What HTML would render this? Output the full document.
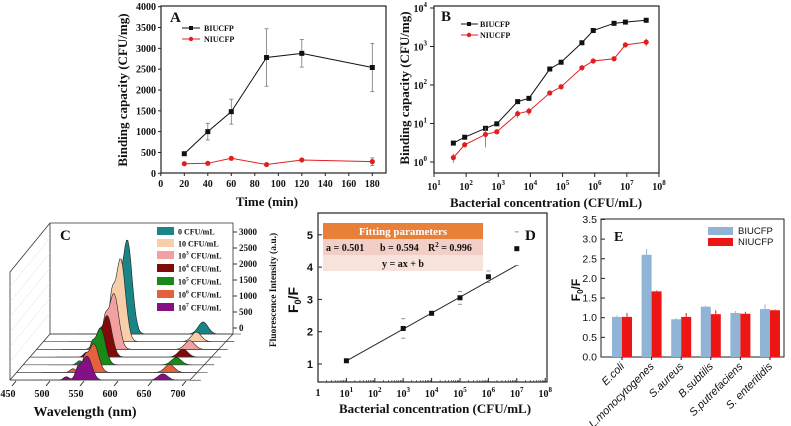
<!DOCTYPE html>
<html><head><meta charset="utf-8">
<style>
html,body{margin:0;padding:0;background:#fff;}
svg{display:block;}
.s{font-family:"Liberation Serif",serif;font-weight:bold;fill:#111;}
.ss{font-family:"Liberation Sans",sans-serif;fill:#111;}
</style></head><body>
<svg id="fig" width="791" height="426" viewBox="0 0 791 426" xmlns="http://www.w3.org/2000/svg">
<g id="pa"></g>
<g id="pb"></g>
<g id="pc"></g>
<g id="pd"></g>
<g id="pe"></g>
</svg>
<script>
// ---------- DATA ----------
const timeA = [20, 40, 60, 90, 120, 180];
const biA = [470, 1000, 1480, 2780, 2880, 2540];
const biErrA = [0, 200, 300, 690, 330, 580];
const niA = [230, 240, 360, 210, 320, 280];
const niErrA = [0, 0, 0, 0, 0, 90];
const ticksAx = [0, 20, 40, 60, 80, 100, 120, 140, 160, 180];
const ticksAy = [0, 500, 1000, 1500, 2000, 2500, 3000, 3500, 4000];

const concB = [4e1, 9e1, 4e2, 9e2, 4e3, 9e3, 4e4, 9e4, 4e5, 9e5, 4e6, 9e6, 4e7];
const biB = [3.1, 4.4, 7.5, 9.8, 37, 45, 260, 390, 1250, 2600, 4000, 4300, 4800];
const niB = [1.3, 2.8, 5.2, 6.1, 18, 21, 62, 90, 280, 420, 480, 1100, 1300];
const niErrB = [0.35, 0.3, 2.8, 0.6, 4, 5, 8, 10, 30, 40, 40, 150, 300];
const expBx = [1, 2, 3, 4, 5, 6, 7, 8];
const expBy = [0, 1, 2, 3, 4];

const seriesC = ["0 CFU/mL", "10 CFU/mL", "10|3| CFU/mL", "10|4| CFU/mL", "10|5| CFU/mL", "10|6| CFU/mL", "10|7| CFU/mL"];
const colorsC = ["#1a8585", "#f6cfaa", "#f2a0a0", "#800a0a", "#188a18", "#e6603e", "#850f85"];
const peakC = [2950, 2600, 1750, 1300, 1150, 900, 750];
const sidePeakC = [420, 200, 160, 150, 130, 120, 110];
const bluePeakC = [150, 120, 110, 100, 90, 100, 80];
const ticksCz = [0, 500, 1000, 1500, 2000, 2500, 3000];
const ticksCx = [450, 500, 550, 600, 650, 700];

const logConcD = [1, 3, 4, 5, 6, 7];
const ratioD = [1.1, 2.1, 2.57, 3.05, 3.7, 4.57];
const errD = [0.05, 0.3, 0.05, 0.2, 0.18, 0.52];
const fitA = 0.494, fitB = 0.6;
const ticksDy = [1, 2, 3, 4, 5];
const expDx = [0, 1, 2, 3, 4, 5, 6, 7, 8];

const catE = ["E.coli", "L.monocytogenes", "S.aureus", "B.subtilis", "S.putrefaciens", "S. enteritidis"];
const biE = [1.02, 2.6, 0.96, 1.28, 1.12, 1.22];
const biErrE = [0.04, 0.15, 0.03, 0.03, 0.05, 0.12];
const niE = [1.02, 1.67, 1.02, 1.09, 1.1, 1.19];
const niErrE = [0.1, 0.02, 0.1, 0.1, 0.05, 0.02];
const ticksEy = [0, 0.5, 1, 1.5, 2, 2.5, 3, 3.5];

// ---------- helpers ----------
const NS = "http://www.w3.org/2000/svg";
function mk(parent, tag, attrs, text) {
  const e = document.createElementNS(NS, tag);
  for (const k in attrs) e.setAttribute(k, attrs[k]);
  if (text !== undefined) e.textContent = text;
  parent.appendChild(e);
  return e;
}
function pow10(parent, x, y, exp, size, anchor) {
  const t = mk(parent, "text", {x: x, y: y, "text-anchor": anchor || "middle", class: "s", "font-size": size});
  
  
  mk(t, "tspan", {}, "10");
  mk(t, "tspan", {dy: -5, "font-size": size * 0.7}, String(exp));
  return t;
}
const L10 = Math.log10;

// ---------- Panel A ----------
(function(){
  const g = document.getElementById("pa");
  const xA = v => 160.8 + v * 1.175;
  const yA = v => 173.3 - v * 166.6 / 4000;
  const f = mk(g, "rect", {x: 161, y: 6, width: 225, height: 167, fill: "none", stroke: "#222", "stroke-width": 1.2});
  
  
  ticksAx.forEach(v => {
    mk(g, "line", {x1: xA(v), x2: xA(v), y1: 173, y2: 176, stroke: "#222"});
    const t = mk(g, "text", {x: xA(v), y: 187, "text-anchor": "middle", class: "s", "font-size": 10}, v);
    
    
  });
  ticksAy.forEach(v => {
    mk(g, "line", {x1: 158, x2: 161, y1: yA(v), y2: yA(v), stroke: "#222"});
    const t = mk(g, "text", {x: 156, y: yA(v) + 3.5, "text-anchor": "end", class: "s", "font-size": 10}, v);
    
    
  });
  const xt = mk(g, "text", {x: 267, y: 206, "text-anchor": "middle", class: "s", "font-size": 13}, "Time (min)");
  
  
  const yt = mk(g, "text", {x: 0, y: 0, transform: "translate(127,90) rotate(-90)", "text-anchor": "middle", class: "s", "font-size": 13}, "Binding capacity (CFU/mg)");
  
  
  const lb = mk(g, "text", {x: 170, y: 22, class: "s", "font-size": 15}, "A");
  
  
  function series(vals, errs, color, sq, name) {
    const pl = mk(g, "polyline", {points: timeA.map((t, i) => xA(t) + "," + yA(vals[i])).join(" "), fill: "none", stroke: color, "stroke-width": 1});
    
    
    timeA.forEach((t, i) => {
      if (errs[i] > 0) {
        mk(g, "line", {x1: xA(t), x2: xA(t), y1: yA(vals[i] - errs[i]), y2: yA(vals[i] + errs[i]), stroke: "#777", "stroke-width": 0.8});
        mk(g, "line", {x1: xA(t) - 2, x2: xA(t) + 2, y1: yA(vals[i] + errs[i]), y2: yA(vals[i] + errs[i]), stroke: "#777", "stroke-width": 0.8});
        mk(g, "line", {x1: xA(t) - 2, x2: xA(t) + 2, y1: yA(vals[i] - errs[i]), y2: yA(vals[i] - errs[i]), stroke: "#777", "stroke-width": 0.8});
      }
      const m = sq ? mk(g, "rect", {x: xA(t) - 2.5, y: yA(vals[i]) - 2.5, width: 5, height: 5, fill: color})
                   : mk(g, "circle", {cx: xA(t), cy: yA(vals[i]), r: 2.6, fill: color});
      
      
    });
  }
  series(biA, biErrA, "#111", true, "biucfp");
  series(niA, niErrA, "#e02020", false, "niucfp");
  [["BIUCFP", "#111", true, 28], ["NIUCFP", "#e02020", false, 39]].forEach(([n, c, sq, y]) => {
    const le = mk(g, "g", {});
    
    
    mk(le, "line", {x1: 182, x2: 200, y1: y, y2: y, stroke: c});
    if (sq) mk(le, "rect", {x: 189, y: y - 2, width: 4, height: 4, fill: c}); else mk(le, "circle", {cx: 191, cy: y, r: 2.2, fill: c});
    mk(le, "text", {x: 204, y: y + 3, class: "s", "font-size": 8}, n);
  });
})();

// ---------- Panel B ----------
(function(){
  const g = document.getElementById("pb");
  const xB = v => 434 + (L10(v) - 1) * 32.14;
  const yB = v => 162 - L10(v) * 38.5;
  const f = mk(g, "rect", {x: 434, y: 6, width: 225, height: 167, fill: "none", stroke: "#222", "stroke-width": 1.2});
  
  
  expBx.forEach(e => {
    const x = xB(Math.pow(10, e));
    mk(g, "line", {x1: x, x2: x, y1: 173, y2: 177, stroke: "#222"});
    pow10(g, x, 190, e, 10);
  });
  expBy.forEach(e => {
    const y = yB(Math.pow(10, e));
    mk(g, "line", {x1: 430, x2: 434, y1: y, y2: y, stroke: "#222"});
    pow10(g, 427, y + 4, e, 10, "end");
  });
  const xt = mk(g, "text", {x: 546, y: 207, "text-anchor": "middle", class: "s", "font-size": 13}, "Bacterial concentration (CFU/mL)");
  
  
  const yt = mk(g, "text", {x: 0, y: 0, transform: "translate(409,88) rotate(-90)", "text-anchor": "middle", class: "s", "font-size": 13}, "Binding capacity (CFU/mg)");
  
  
  const lb = mk(g, "text", {x: 441, y: 21, class: "s", "font-size": 15}, "B");
  
  
  function series(vals, errs, color, sq, name) {
    const pl = mk(g, "polyline", {points: concB.map((c, i) => xB(c) + "," + yB(vals[i])).join(" "), fill: "none", stroke: color, "stroke-width": 1});
    
    
    concB.forEach((c, i) => {
      if (errs) {
        mk(g, "line", {x1: xB(c), x2: xB(c), y1: yB(Math.max(vals[i] - errs[i], 0.6)), y2: yB(vals[i] + errs[i]), stroke: "#c05050", "stroke-width": 0.8});
      }
      const m = sq ? mk(g, "rect", {x: xB(c) - 2.5, y: yB(vals[i]) - 2.5, width: 5, height: 5, fill: color})
                   : mk(g, "circle", {cx: xB(c), cy: yB(vals[i]), r: 2.6, fill: color});
      
      
    });
  }
  series(biB, null, "#111", true, "biucfp");
  series(niB, niErrB, "#e02020", false, "niucfp");
  [["BIUCFP", "#111", true, 24], ["NIUCFP", "#e02020", false, 35]].forEach(([n, c, sq, y]) => {
    const le = mk(g, "g", {});
    
    
    mk(le, "line", {x1: 461, x2: 478, y1: y, y2: y, stroke: c});
    if (sq) mk(le, "rect", {x: 467, y: y - 2, width: 4, height: 4, fill: c}); else mk(le, "circle", {cx: 469, cy: y, r: 2.2, fill: c});
    mk(le, "text", {x: 480, y: y + 3, class: "s", "font-size": 8}, n);
  });
})();

// ---------- Panel C ----------
(function(){
  const g = document.getElementById("pc");
  const dx = 6.7, dy = 7.7;
  const zScale = 96 / 3000;
  const walls = mk(g, "path", {d: "M50,223 L233,223 L233,334 L190,380 L10,380 L10,272 Z M50,223 L50,334 M50,334 L233,334 M50,334 L10,380", fill: "#fff", stroke: "#333", "stroke-width": 0.8});
  
  
  for (let k = 1; k < 7; k++) mk(g, "line", {x1: 10, y1: 272 + k * 15, x2: 50, y2: 223 + k * 15, stroke: "#ddd", "stroke-width": 0.5});
  ticksCz.forEach(v => {
    const y = 328 - v * zScale;
    mk(g, "line", {x1: 233, x2: 237, y1: y, y2: y, stroke: "#333"});
    const t = mk(g, "text", {x: 239, y: y + 3, class: "s", "font-size": 9}, v);
    
    
  });
  ticksCx.forEach((v, i) => {
    const t = mk(g, "text", {x: 8 + i * 34, y: 397, "text-anchor": "middle", class: "s", "font-size": 10}, v);
    
    
    mk(g, "line", {x1: 16 + i * 34, x2: 12 + i * 34, y1: 381, y2: 386, stroke: "#333"});
  });
  const xt = mk(g, "text", {x: 85, y: 416, "text-anchor": "middle", class: "s", "font-size": 14}, "Wavelength (nm)");
  
  
  const zt = mk(g, "text", {x: 0, y: 0, transform: "translate(276,290) rotate(-90)", "text-anchor": "middle", class: "s", "font-size": 9.5}, "Fluorescence Intensity (a.u.)");
  
  
  const lb = mk(g, "text", {x: 60, y: 240, class: "s", "font-size": 15, "font-weight": "normal"}, "C");
  
  
  const wx = (wl, i) => 87 + (wl - 545) * 0.69 + (6 - i) * dx;
  seriesC.forEach((name, i) => {
    const by = 334 + i * dy;
    const pts = [];
    for (let wl = 470; wl <= 710; wl += 2) {
      const h = peakC[i] * Math.exp(-Math.pow((wl - 545) / 7, 2) / 2)
              + peakC[i] * 0.45 * Math.exp(-Math.pow((wl - 532) / 4, 2) / 2)
              + sidePeakC[i] * Math.exp(-Math.pow((wl - 515) / 4, 2) / 2)
              + bluePeakC[i] * 2.5 * Math.exp(-Math.pow((wl - 655) / 7, 2) / 2);
      pts.push(wx(wl, i).toFixed(1) + "," + (by - h * zScale).toFixed(1));
    }
    const x0 = wx(470, i), x1 = wx(710, i);
    const ar = mk(g, "polygon", {points: x0 + "," + by + " " + pts.join(" ") + " " + x1 + "," + by, fill: colorsC[i], stroke: "#222", "stroke-width": 0.6});
    
    
    mk(g, "line", {x1: 50 - i * dx, x2: 233 - i * dx * 1.1, y1: by, y2: by, stroke: "#444", "stroke-width": 0.7});
  });
  const rowsY = [232, 244, 256, 269, 282, 295, 308];
  seriesC.forEach((name, i) => {
    const le = mk(g, "g", {});
    
    
    mk(le, "rect", {x: 157, y: rowsY[i] - 5, width: 17, height: 8, fill: colorsC[i]});
    const parts = name.split("|");
    const t = mk(le, "text", {x: 178, y: rowsY[i] + 2.5, class: "s", "font-size": 8});
    mk(t, "tspan", {}, parts[0]);
    if (parts.length > 1) { mk(t, "tspan", {dy: -4, "font-size": 5.5}, parts[1]); mk(t, "tspan", {dy: 4}, parts[2]); }
  });
})();

// ---------- Panel D ----------
(function(){
  const g = document.getElementById("pd");
  const xD = l => 318 + l * 28.4;
  const yD = v => 364 - (v - 1) * 32.3;
  const f = mk(g, "rect", {x: 318, y: 213, width: 229, height: 169, fill: "none", stroke: "#222", "stroke-width": 1.2});
  
  
  expDx.forEach(e => {
    const x = xD(e);
    mk(g, "line", {x1: x, x2: x, y1: 382, y2: 378, stroke: "#222"});
    for (let m = 2; m < 10 && e < 8; m++) { const xm = xD(e + L10(m)); mk(g, "line", {x1: xm, x2: xm, y1: 382, y2: 380, stroke: "#222", "stroke-width": 0.6}); }
    if (e === 0) { const t = mk(g, "text", {x: x, y: 396, "text-anchor": "middle", class: "s", "font-size": 10}, "1");   }
    else pow10(g, x, 397, e, 10);
  });
  ticksDy.forEach(v => {
    mk(g, "line", {x1: 318, x2: 322, y1: yD(v), y2: yD(v), stroke: "#222"});
    const t = mk(g, "text", {x: 313, y: yD(v) + 4, "text-anchor": "end", class: "ss", "font-size": 11, "font-weight": "bold"}, v);
    
    
  });
  const xt = mk(g, "text", {x: 435, y: 413, "text-anchor": "middle", class: "s", "font-size": 13}, "Bacterial concentration (CFU/mL)");
  
  
  const yt = mk(g, "text", {x: 0, y: 0, transform: "translate(298,300) rotate(-90)", "text-anchor": "middle", class: "ss", "font-size": 14, "font-weight": "bold"});
  
  
  mk(yt, "tspan", {}, "F");
  mk(yt, "tspan", {dy: 3, "font-size": 9}, "0");
  mk(yt, "tspan", {dy: -3}, "/F");
  const hdr = mk(g, "rect", {x: 323, y: 223, width: 160, height: 16, fill: "#e8803a"});
  
  
  mk(g, "rect", {x: 323, y: 239, width: 160, height: 16, fill: "#f2cfc6"});
  mk(g, "rect", {x: 323, y: 255, width: 160, height: 16, fill: "#f8e3dc"});
  mk(g, "text", {x: 403, y: 235, "text-anchor": "middle", class: "s", "font-size": 11, style: "fill:#fff"}, "Fitting parameters");
  mk(g, "text", {x: 326, y: 251, class: "s", "font-size": 10}, "a = 0.501");
  mk(g, "text", {x: 380, y: 251, class: "s", "font-size": 10}, "b = 0.594");
  const r2 = mk(g, "text", {x: 428, y: 251, class: "s", "font-size": 10});
  mk(r2, "tspan", {}, "R");
  mk(r2, "tspan", {dy: -4, "font-size": 7}, "2");
  mk(r2, "tspan", {dy: 4}, " = 0.996");
  mk(g, "text", {x: 403, y: 267, "text-anchor": "middle", class: "s", "font-size": 10}, "y = ax + b");
  const lb = mk(g, "text", {x: 525, y: 240, class: "s", "font-size": 15, "font-weight": "normal"}, "D");
  
  
  const fl = mk(g, "line", {x1: xD(1), y1: yD(fitA * 1 + fitB), x2: xD(7), y2: yD(fitA * 7 + fitB), stroke: "#222", "stroke-width": 1});
  
  
  logConcD.forEach((l, i) => {
    const x = xD(l);
    mk(g, "line", {x1: x - 2, x2: x + 2, y1: yD(ratioD[i] + errD[i]), y2: yD(ratioD[i] + errD[i]), stroke: "#777", "stroke-width": 0.8});
    mk(g, "line", {x1: x - 2, x2: x + 2, y1: yD(ratioD[i] - errD[i]), y2: yD(ratioD[i] - errD[i]), stroke: "#777", "stroke-width": 0.8});
    const m = mk(g, "rect", {x: x - 2.5, y: yD(ratioD[i]) - 2.5, width: 5, height: 5, fill: "#111"});
    
    
  });
})();

// ---------- Panel E ----------
(function(){
  const g = document.getElementById("pe");
  const yE = v => 357 - v * 39.3;
  const cx = i => 622 + i * 29.6;
  const f = mk(g, "rect", {x: 601, y: 219, width: 183, height: 138, fill: "none", stroke: "#222", "stroke-width": 1});
  
  
  ticksEy.forEach(v => {
    mk(g, "line", {x1: 601, x2: 605, y1: yE(v), y2: yE(v), stroke: "#222"});
    const t = mk(g, "text", {x: 597, y: yE(v) + 3.5, "text-anchor": "end", class: "ss", "font-size": 10.5}, v.toFixed(1));
    
    
  });
  catE.forEach((c, i) => {
    const b = mk(g, "rect", {x: cx(i) - 10, y: yE(biE[i]), width: 10, height: yE(0) - yE(biE[i]), fill: "#8fb4d6"});
    
    
    const r = mk(g, "rect", {x: cx(i), y: yE(niE[i]), width: 10, height: yE(0) - yE(niE[i]), fill: "#ee1515"});
    
    
    mk(g, "line", {x1: cx(i) - 5, x2: cx(i) - 5, y1: yE(biE[i]), y2: yE(biE[i] + biErrE[i]), stroke: "#8fb4d6"});
    mk(g, "line", {x1: cx(i) + 5, x2: cx(i) + 5, y1: yE(niE[i]), y2: yE(niE[i] + niErrE[i]), stroke: "#ee1515"});
    mk(g, "line", {x1: cx(i), x2: cx(i), y1: 357, y2: 360, stroke: "#222"});
    const t = mk(g, "text", {x: 0, y: 0, transform: "translate(" + (cx(i) + 3) + ",367) rotate(-45)", "text-anchor": "end", class: "ss", "font-size": 11, "font-style": "italic"}, c);
    
    
  });
  const yt = mk(g, "text", {x: 0, y: 0, transform: "translate(580,290) rotate(-90)", "text-anchor": "middle", class: "ss", "font-size": 12, "font-weight": "bold"});
  
  
  mk(yt, "tspan", {}, "F");
  mk(yt, "tspan", {dy: 3, "font-size": 8}, "0");
  mk(yt, "tspan", {dy: -3}, "/F");
  const lb = mk(g, "text", {x: 614, y: 241, class: "s", "font-size": 14, "font-weight": "normal"}, "E");
  
  
  [["BIUCFP", "#8fb4d6", 229], ["NIUCFP", "#ee1515", 240]].forEach(([n, c, y]) => {
    const le = mk(g, "g", {});
    
    
    mk(le, "rect", {x: 708, y: y - 2, width: 25, height: 8, fill: c});
    mk(le, "text", {x: 738, y: y + 5, class: "ss", "font-size": 9.5}, n);
  });
})();
</script>
</body></html>
